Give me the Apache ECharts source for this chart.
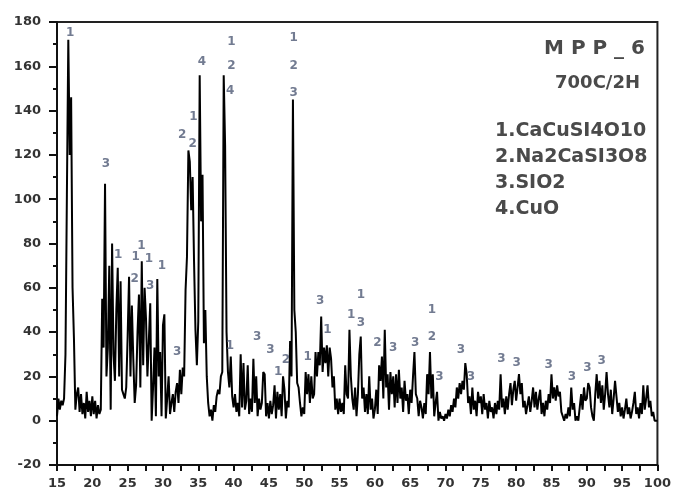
<!DOCTYPE html>
<html>
<head>
<meta charset="utf-8">
<script src="https://cdn.jsdelivr.net/npm/echarts@6/dist/echarts.min.js"></script>
<style>
  html, body { margin: 0; padding: 0; background: #fff; }
  #chart { width: 674px; height: 493px; }
</style>
</head>
<body>
<div id="chart"></div>
<script>
// XRD pattern MPP_6, 700C/2H
// 2-theta sampling grid: 15.0 .. 100.0 in 0.2 steps
var thetaStart = 15
var thetaStep = 0.2

// intensity, one row per degree (x.0 x.2 x.4 x.6 x.8)
var intensity = [
  2, 10, 5, 9, 7,          // 15
  10, 30, 102, 172, 120,   // 16
  146, 60, 37, 5, 12,      // 17
  15, 4, 12, 3, 8,         // 18
  1, 13, 4, 9, 2,          // 19
  11, 3, 9, 1, 7,          // 20
  3, 5, 55, 33, 107,       // 21
  20, 33, 70, 5, 80,       // 22
  30, 18, 50, 69, 20,      // 23
  63, 14, 12, 10, 15,      // 24
  38, 65, 20, 52, 28,      // 25
  8, 16, 40, 57, 15,       // 26
  72, 25, 60, 46, 20,      // 27
  36, 53, 0, 15, 33,       // 28
  2, 64, 20, 31, 2,        // 29
  43, 48, 1, 10, 20,       // 30
  3, 8, 12, 4, 13,         // 31
  17, 8, 23, 12, 24,       // 32
  20, 59, 74, 122, 117,    // 33
  95, 110, 72, 41, 25,     // 34
  45, 156, 90, 111, 35,    // 35
  50, 20, 8, 2, 5,         // 36
  0, 7, 4, 11, 14,         // 37
  12, 20, 22, 156, 124,    // 38
  40, 22, 15, 29, 11,      // 39
  6, 12, 4, 8, 2,          // 40
  30, 6, 26, 5, 9,         // 41
  25, 3, 10, 4, 28,        // 42
  8, 20, 2, 10, 5,         // 43
  8, 22, 21, 2, 8,         // 44
  1, 9, 3, 7, 16,          // 45
  1, 13, 5, 12, 2,         // 46
  20, 14, 1, 9, 6,         // 47
  36, 20, 145, 50, 40,     // 48
  17, 15, 8, 2, 6,         // 49
  3, 22, 12, 21, 8,        // 50
  20, 10, 12, 31, 20,      // 51
  31, 25, 47, 22, 33,      // 52
  26, 34, 20, 33, 28,      // 53
  15, 20, 5, 10, 3,        // 54
  10, 4, 8, 3, 25,         // 55
  12, 10, 41, 20, 10,      // 56
  5, 15, 2, 12, 30,        // 57
  38, 10, 15, 4, 12,       // 58
  3, 20, 5, 10, 1,         // 59
  5, 14, 3, 25, 18,        // 60
  29, 10, 41, 15, 21,      // 61
  5, 22, 12, 20, 6,        // 62
  21, 8, 23, 10, 15,       // 63
  4, 18, 9, 12, 3,         // 64
  14, 8, 20, 31, 12,       // 65
  10, 2, 9, 6, 1,          // 66
  8, 3, 21, 12, 31,        // 67
  10, 21, 2, 8, 13,        // 68
  0, 4, 1, 2, 0,           // 69
  3, 1, 5, 2, 7,           // 70
  4, 10, 6, 15, 10,        // 71
  17, 12, 18, 14, 26,      // 72
  21, 8, 11, 3, 15,        // 73
  5, 9, 2, 13, 8,          // 74
  11, 3, 12, 5, 8,         // 75
  1, 9, 4, 6, 1,           // 76
  8, 3, 9, 5, 21,          // 77
  6, 10, 3, 11, 5,         // 78
  12, 17, 7, 14, 18,       // 79
  9, 15, 21, 12, 17,       // 80
  6, 9, 3, 7, 11,          // 81
  4, 9, 15, 6, 13,         // 82
  5, 10, 14, 3, 8,         // 83
  2, 9, 5, 12, 8,          // 84
  21, 10, 15, 9, 16,       // 85
  11, 13, 4, 2, 0,         // 86
  3, 1, 6, 2, 15,          // 87
  5, 8, 0, 2, 0,           // 88
  6, 12, 5, 15, 9,         // 89
  10, 17, 15, 6, 2,        // 90
  0, 12, 21, 10, 18,       // 91
  8, 16, 5, 12, 22,        // 92
  12, 6, 14, 3, 10,        // 93
  18, 11, 4, 8, 2,         // 94
  6, 1, 5, 10, 3,          // 95
  6, 1, 4, 8, 13,          // 96
  3, 6, 1, 8, 3,           // 97
  16, 5, 10, 16, 6,        // 98
  9, 2, 4, 0, 0,           // 99
  0                        // 100
]

// phase tags placed over the peaks (2-theta, height, phase number)
var tagX = [16.87, 21.93, 32.72, 34.2, 34.3, 35.5, 39.7, 39.7, 39.5, 48.5, 48.5, 48.5,
  23.67, 26.15, 26.95, 28.03, 29.85, 26.0, 28.2, 32.0, 39.47, 43.35, 45.2, 47.4, 46.3,
  50.5, 52.27, 53.3, 56.63, 58.04, 58.04, 60.37, 62.58, 65.72, 68.07, 68.07, 69.15,
  72.19, 73.6, 77.9, 80.07, 84.62, 87.9, 90.1, 92.12]
var tagY = [175, 116, 129, 125, 137, 162, 171, 160, 149, 173, 160, 148,
  75, 74, 79, 73, 70, 64, 61, 31, 34, 38, 32, 27.5, 22,
  29, 54, 41, 48, 44, 57, 35, 33, 35, 50, 38, 20,
  32, 20, 28, 26, 25, 20, 24, 27]
var tagText = ['1', '3', '2', '2', '1', '4', '1', '2', '4', '1', '2', '3',
  '1', '1', '1', '1', '1', '2', '3', '3', '1', '3', '3', '2', '1',
  '1', '3', '1', '1', '3', '1', '2', '3', '3', '1', '2', '3',
  '3', '3', '3', '3', '3', '3', '3', '3']

var phases = ['1.CaCuSI4O10', '2.Na2CaSI3O8', '3.SIO2', '4.CuO']

var chart = echarts.init(document.getElementById('chart'), null, { renderer: 'canvas' })

var lineData = intensity.map(function (v, i) {
  return [+(thetaStart + i * thetaStep).toFixed(1), v]
})
var tagData = tagX.map(function (x, i) {
  return [x, tagY[i], tagText[i]]
})

var font = '"DejaVu Sans", "Liberation Sans", Arial, sans-serif'
var textColor = '#333'

var phaseText = phases.map(function (p, i) {
  return {
    type: 'text',
    left: 495,
    top: 122 + i * 26,
    style: { text: p, fill: '#4a4a4a', font: 'bold 19px ' + font }
  }
})

var option = {
  animation: false,
  backgroundColor: '#fff',
  grid: {
    left: 57, right: 12, top: 22, bottom: 28,
    show: true, borderColor: '#222', borderWidth: 2, backgroundColor: 'transparent'
  },
  xAxis: {
    type: 'value',
    min: 15, max: 100, interval: 5,
    axisLine: { onZero: false, lineStyle: { color: '#111', width: 2 } },
    axisTick: { length: 6, lineStyle: { color: '#111', width: 2 } },
    minorTick: { show: true, splitNumber: 2, length: 6, lineStyle: { color: '#111', width: 2 } },
    splitLine: { show: false },
    axisLabel: { color: textColor, fontFamily: font, fontWeight: 'bold', fontSize: 13, margin: 12 }
  },
  yAxis: {
    type: 'value',
    min: -20, max: 180, interval: 20,
    axisLine: { show: true, onZero: false, lineStyle: { color: '#111', width: 2 } },
    axisTick: { show: true, length: 8, lineStyle: { color: '#111', width: 2 } },
    minorTick: { show: true, splitNumber: 2, length: 4, lineStyle: { color: '#111', width: 2 } },
    splitLine: { show: false },
    axisLabel: { color: textColor, fontFamily: font, fontWeight: 'bold', fontSize: 13, margin: 16 }
  },
  series: [
    {
      type: 'line',
      data: lineData,
      symbol: 'none',
      lineStyle: { color: '#000', width: 2 },
      z: 2
    },
    {
      type: 'scatter',
      data: tagData,
      symbolSize: 0,
      label: {
        show: true,
        position: 'inside',
        formatter: function (p) { return p.data[2] },
        color: '#4f5a76',
        fontFamily: font,
        fontWeight: 'bold',
        fontSize: 12
      },
      z: 3
    }
  ],
  graphic: [
    {
      type: 'text',
      right: 29,
      top: 39,
      style: { text: 'M P P _ 6', fill: '#4a4a4a', font: 'bold 20px ' + font }
    },
    {
      type: 'text',
      right: 34,
      top: 74,
      style: { text: '700C/2H', fill: '#4a4a4a', font: 'bold 18px ' + font }
    }
  ].concat(phaseText)
}

chart.setOption(option)
</script>
</body>
</html>
